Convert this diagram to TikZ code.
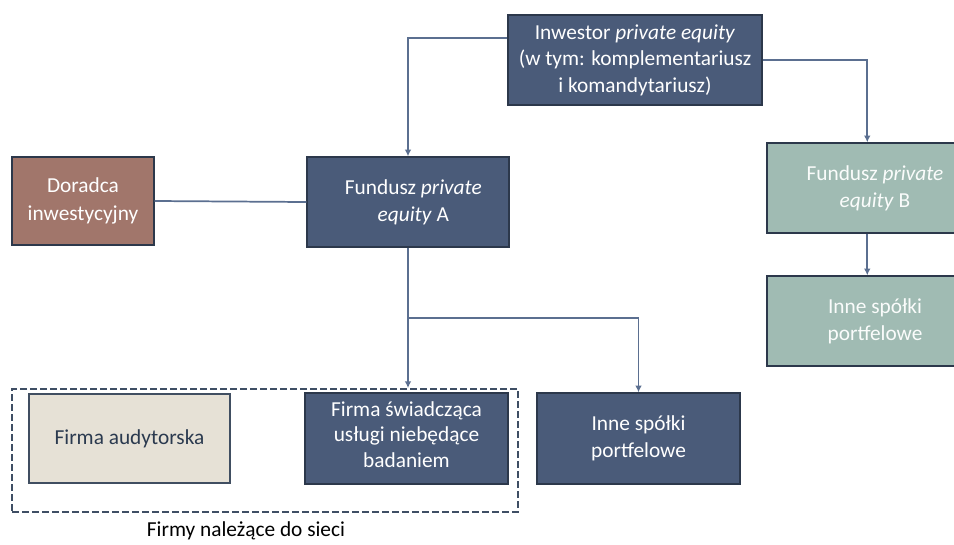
\documentclass[tikz,border=0pt]{standalone}
\usepackage{fontspec}
\setmainfont{Carlito}
\usetikzlibrary{arrows.meta,calc}
\definecolor{dblue}{HTML}{4A5B79}
\definecolor{dborder}{HTML}{2C384B}
\definecolor{lineblue}{HTML}{5B6F90}
\definecolor{brownbox}{HTML}{A1766B}
\definecolor{tealbox}{HTML}{A0BBB3}
\definecolor{beigebox}{HTML}{E6E1D6}
\definecolor{darktext}{HTML}{2B3A4F}
\definecolor{dashcol}{HTML}{3F4E64}
\tikzset{
  x=0.75pt, y=-0.75pt,
  box/.style={draw=dborder, line width=1.1pt, align=center, inner sep=1pt,
    font=\fontsize{16}{20.5}\selectfont, text=white},
  bluebox/.style={box, fill=dblue},
  conn/.style={draw=lineblue, line width=1.3pt},
  arr/.style={conn, -{Latex[length=5pt,width=5pt]}},
}
\begin{document}
\begin{tikzpicture}
\useasboundingbox (0,0) rectangle (954,544);
% dashed group
\node[draw=dashcol, dashed, dash pattern=on 5pt off 2.5pt, line width=1.5pt,
  minimum width=506*0.75pt, minimum height=123*0.75pt, inner sep=0pt] (grp) at (265,450.5) {};
\node[bluebox, font=\fontsize{16}{19.8}\selectfont, minimum width=254*0.75pt, minimum height=90*0.75pt] (inv) at (635,60)
  {Inwestor \textit{private equity}\\(w tym: komplementariusz\\i komandytariusz)};
\node[box, fill=brownbox, minimum width=142*0.75pt, minimum height=88*0.75pt] (dor) at (83,201)
  {Doradca\\inwestycyjny};
\node[bluebox, minimum width=202*0.75pt, minimum height=90*0.75pt] (fa) at (408,202)
  {\hspace*{8pt}Fundusz \textit{private}\\\hspace*{8pt}\textit{equity} A};
\node[box, fill=tealbox, text=white!95!tealbox, minimum width=216*0.75pt, minimum height=90*0.75pt] (fb) at (875,188)
  {Fundusz \textit{private}\\\textit{equity} B};
\node[box, fill=tealbox, text=white!95!tealbox, minimum width=216*0.75pt, minimum height=90*0.75pt] (ib) at (875,321)
  {Inne spółki\\portfelowe};
\node[box, fill=beigebox, draw=darktext!90, text=darktext, minimum width=201*0.75pt, minimum height=89*0.75pt] (aud) at (129.5,438.5)
  {Firma audytorska};
\node[bluebox, font=\fontsize{16}{19.2}\selectfont, minimum width=203*0.75pt, minimum height=91*0.75pt] (fs) at (406.5,438.5)
  {\raisebox{0pt}[\height][\depth]{}Firma świadcząca\\usługi niebędące\\badaniem\vspace*{6pt}};
\node[bluebox, minimum width=203*0.75pt, minimum height=91*0.75pt] (ia) at (638.5,438.5)
  {Inne spółki\\portfelowe};
\node[font=\fontsize{16}{20}\selectfont, text=black] (lab) at (246,531) {Firmy należące do sieci};
% connectors
\coordinate (fbin) at ($(fb.north west)+(101,0)$);
\coordinate (ibin) at ($(ib.north west)+(101,0)$);
\coordinate (fbout) at ($(fb.south west)+(101,0)$);
\draw[arr] ([yshift=22*0.75pt]inv.west) -| (fa.north);
\draw[arr] (inv.east) -| (fbin);
\draw[arr] (fbout) -- (ibin);
\draw[conn] (dor.east) -- (fa.west);
\draw[arr] (fa.south) -- (fa.south |- grp.north);
\draw[arr] ($(fa.south)+(0,70)$) -| (ia.north);
\end{tikzpicture}
\end{document}
